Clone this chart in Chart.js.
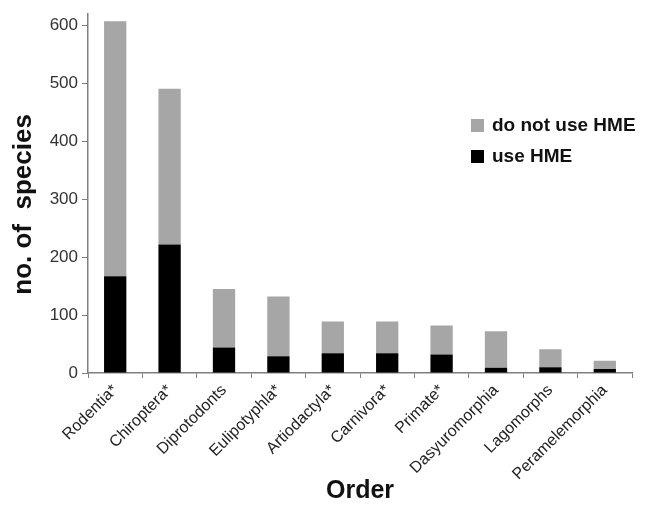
<!DOCTYPE html>
<html>
<head>
<meta charset="utf-8">
<script src="https://cdn.jsdelivr.net/npm/chart.js@4.4.1/dist/chart.umd.min.js"></script>
<style>
  html, body { margin: 0; padding: 0; background: #fff; }
  #wrap { width: 650px; height: 508px; position: relative; }
</style>
</head>
<body>
<div id="wrap"><canvas id="hmeChart"></canvas></div>
<script>
// data
var orders = ['Rodentia*', 'Chiroptera*', 'Diprotodonts', 'Eulipotyphla*', 'Artiodactyla*',
              'Carnivora*', 'Primate*', 'Dasyuromorphia', 'Lagomorphs', 'Peramelemorphia'];
var useHME = [167, 222, 44, 29, 34, 34, 32, 9, 10, 7];
var noHME = [441, 269, 101, 103, 55, 55, 50, 63, 31, 14];
var yTicks = [0, 100, 200, 300, 400, 500, 600];

var axisGrey = '#7f7f7f';
var textDark = '#222';

Chart.defaults.font.family = "'Liberation Sans', Arial, sans-serif";
Chart.defaults.color = textDark;

// legend drawn inside the plot, upper right
var insideLegend = {
    id: 'insideLegend',
    afterDraw: function (chart) {
        var ctx = chart.ctx;
        var items = [chart.data.datasets[1], chart.data.datasets[0]];
        var x = 471, y = 119;
        ctx.save();
        ctx.font = "bold 19px 'Liberation Sans', Arial, sans-serif";
        ctx.textBaseline = 'middle';
        items.forEach(function (ds, i) {
            var yy = y + i * 31;
            ctx.fillStyle = ds.backgroundColor;
            ctx.fillRect(x, yy, 13, 13);
            ctx.fillStyle = '#111';
            ctx.fillText(ds.label, x + 21, yy + 7);
        });
        ctx.restore();
    }
};

new Chart(document.getElementById('hmeChart').getContext('2d'), {
    type: 'bar',
    data: {
        labels: orders,
        datasets: [
            { label: 'use HME', data: useHME, backgroundColor: '#000000',
              categoryPercentage: 1, barPercentage: 0.41 },
            { label: 'do not use HME', data: noHME, backgroundColor: '#a6a6a6',
              categoryPercentage: 1, barPercentage: 0.41 }
        ]
    },
    options: {
        responsive: true, maintainAspectRatio: false, animation: false,
        layout: { padding: { top: 10, right: 18, left: 0, bottom: 0 } },
        plugins: { legend: { display: false }, tooltip: { enabled: false } },
        scales: {
            x: {
                stacked: true,
                grid: { display: true, drawOnChartArea: false, drawTicks: true, tickLength: 5,
                        color: axisGrey, offset: true },
                border: { display: true, color: axisGrey, width: 1.5 },
                ticks: { maxRotation: 45, minRotation: 45, padding: 3, color: textDark,
                         font: { size: 16 } },
                title: { display: true, text: 'Order', color: '#111',
                         font: { size: 25, weight: 'bold' }, padding: { top: 6, bottom: 2 } },
                afterFit: function (scale) { scale.height = 135; }
            },
            y: {
                stacked: true, min: 0, max: 620,
                afterBuildTicks: function (scale) {
                    scale.ticks = yTicks.map(function (v) { return { value: v }; });
                },
                grid: { display: true, drawOnChartArea: false, drawTicks: true, tickLength: 6,
                        color: axisGrey },
                border: { display: true, color: axisGrey, width: 1.5 },
                ticks: { color: '#333', padding: 4, font: { size: 17 } },
                // trailing spaces nudge the rotated title a little lower, as in the figure
                title: { display: true, text: 'no. of  species   ', color: '#111',
                         font: { size: 26, weight: 'bold' }, padding: { top: 8, bottom: 4 } },
                afterFit: function (scale) { scale.width = 88; }
            }
        }
    },
    plugins: [insideLegend]
});
</script>
</body>
</html>
